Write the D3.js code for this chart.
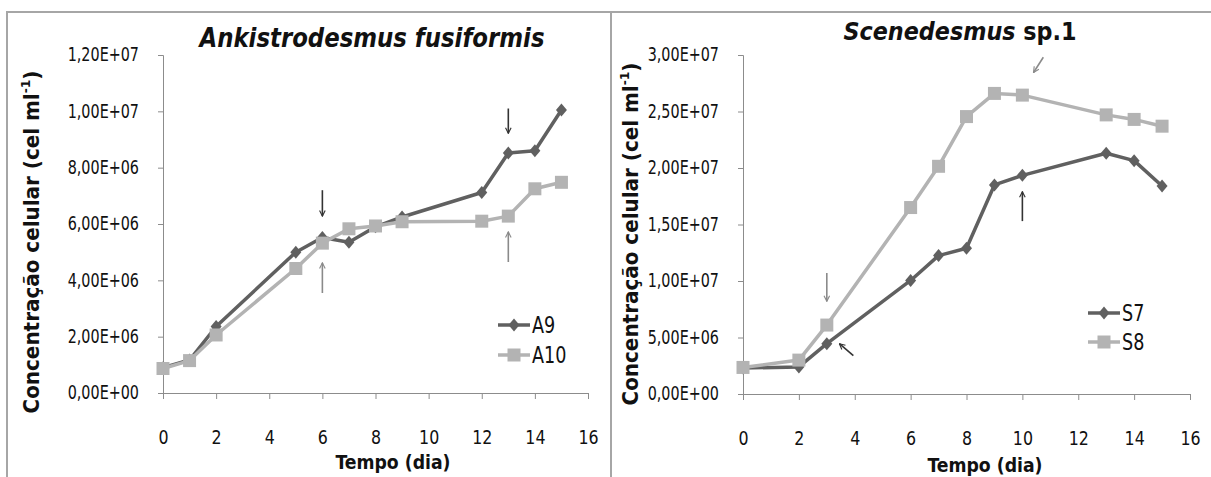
<!DOCTYPE html>
<html><head><meta charset="utf-8">
<script src="https://cdn.jsdelivr.net/npm/d3@7"></script>
<style>
body{margin:0;background:#fff;}
svg{display:block;}
text{font-family:"DejaVu Sans Condensed","Liberation Sans","Open Sans",sans-serif;fill:#111;}
</style></head><body>
<svg id="c" width="1211" height="477"></svg>
<script>
// ---- data ----
const daysA = [0,1,2,5,6,7,8,9,12,13,14,15];
const A9  = [0.90e6,1.17e6,2.36e6,5.0e6,5.52e6,5.35e6,5.9e6,6.25e6,7.12e6,8.52e6,8.6e6,10.05e6];
const A10 = [0.87e6,1.15e6,2.06e6,4.42e6,5.32e6,5.83e6,5.93e6,6.08e6,6.1e6,6.28e6,7.25e6,7.48e6];
const daysS = [0,2,3,6,7,8,9,10,13,14,15];
const S7 = [2.3e6,2.4e6,4.45e6,10.05e6,12.25e6,12.9e6,18.5e6,19.35e6,21.3e6,20.65e6,18.4e6];
const S8 = [2.35e6,3.0e6,6.1e6,16.5e6,20.15e6,24.55e6,26.6e6,26.45e6,24.7e6,24.3e6,23.7e6];
const xTicks = [0,2,4,6,8,10,12,14,16];
const yTicksA = [0,2e6,4e6,6e6,8e6,10e6,12e6];
const yTickLabelsA = ["0,00E+00","2,00E+06","4,00E+06","6,00E+06","8,00E+06","1,00E+07","1,20E+07"];
const yTicksS = [0,5e6,10e6,15e6,20e6,25e6,30e6];
const yTickLabelsS = ["0,00E+00","5,00E+06","1,00E+07","1,50E+07","2,00E+07","2,50E+07","3,00E+07"];
// arrows: [x1,y1,x2,y2] in data units (tail -> head)
const arrowsA = [[6,7.2e6,6,6.28e6,"dark"],[6,3.55e6,6,4.62e6,"light"],[13,10.1e6,13,9.22e6,"dark"],[13,4.65e6,13,5.72e6,"light"]];
const arrowsS = [[3,10.7e6,3,8.2e6,"light"],[3.95,3.4e6,3.45,4.45e6,"dark"],[10,15.3e6,10,17.9e6,"dark"],[10.75,29.8e6,10.4,28.45e6,"light"]];

const DARK="#606060", LIGHT="#b3b3b3";
const svg = d3.select("#c");
const defs = svg.append("defs");
[["dark","#333"],["light","#8a8a8a"]].forEach(([id,c])=>{
  defs.append("marker").attr("id","ah-"+id).attr("viewBox","0 0 10 10").attr("refX",9).attr("refY",5)
    .attr("markerWidth",7).attr("markerHeight",7).attr("markerUnits","userSpaceOnUse").attr("orient","auto")
    .append("path").attr("d","M1,1 L9,5 L1,9").attr("fill","none").attr("stroke",c).attr("stroke-width",1.6);
});
function narrow(sel,f){ sel.each(function(){ const L=this.getComputedTextLength(); d3.select(this).attr("textLength",L*f).attr("lengthAdjust","spacingAndGlyphs"); }); }

// frame
svg.append("path").attr("d","M7,477 V12 H1211 M611,12 V477").attr("fill","none").attr("stroke","#a6a6a6").attr("stroke-width",2);

function panel(cfg){
  const x = d3.scaleLinear().domain([0,16]).range(cfg.xr);
  const y = d3.scaleLinear().domain(cfg.yd).range(cfg.yr);
  const g = svg.append("g");
  // y axis
  const ya = g.append("g").attr("transform",`translate(${cfg.xr[0]},0)`)
    .call(d3.axisLeft(y).tickValues(cfg.yTicks).tickFormat((d,i)=>cfg.yLabels[i]).tickSize(5).tickPadding(19));
  ya.selectAll("text").attr("font-size",19).attr("font-family",null).attr("fill","#111").attr("dy","0.3em");
  narrow(ya.selectAll("text"),0.84);
  // x axis
  const xa = g.append("g").attr("transform",`translate(0,${cfg.yr[0]})`)
    .call(d3.axisBottom(x).tickValues(xTicks).tickSize(6).tickPadding(31));
  xa.selectAll("text").attr("font-size",20).attr("font-family",null).attr("fill","#111");
  narrow(xa.selectAll("text"),0.88);
  [ya,xa].forEach(a=>{a.select(".domain").attr("stroke","#8c8c8c");a.selectAll(".tick line").attr("stroke","#8c8c8c");});
  // series
  const line = d3.line().x(d=>x(d[0])).y(d=>y(d[1]));
  cfg.series.forEach(s=>{
    const pts = cfg.days.map((d,i)=>[d,s.vals[i]]);
    g.append("path").attr("d",line(pts)).attr("fill","none").attr("stroke",s.color).attr("stroke-width",3.5).attr("stroke-linejoin","round");
    g.selectAll(null).data(pts).enter().append("path")
      .attr("transform",d=>`translate(${x(d[0])},${y(d[1])})`)
      .attr("d",s.shape==="d"?"M0,-6.5 L5.5,0 L0,6.5 L-5.5,0Z":"M-6.5,-6.5 H6.5 V6.5 H-6.5Z")
      .attr("fill",s.color);
  });
  // arrows
  cfg.arrows.forEach(a=>{
    g.append("line").attr("x1",x(a[0])).attr("y1",y(a[1])).attr("x2",x(a[2])).attr("y2",y(a[3]))
      .attr("stroke",a[4]==="dark"?"#333":"#8a8a8a").attr("stroke-width",1.6)
      .attr("marker-end",`url(#ah-${a[4]})`);
  });
  // legend
  cfg.series.forEach((s,i)=>{
    const ly = cfg.leg[1]+i*cfg.legGap, lx = cfg.leg[0];
    g.append("line").attr("x1",lx).attr("x2",lx+32).attr("y1",ly).attr("y2",ly).attr("stroke",s.color).attr("stroke-width",3.5);
    g.append("path").attr("transform",`translate(${lx+16},${ly})`)
      .attr("d",s.shape==="d"?"M0,-6.5 L5.5,0 L0,6.5 L-5.5,0Z":"M-6.5,-6.5 H6.5 V6.5 H-6.5Z").attr("fill",s.color);
    const lt = g.append("text").attr("x",lx+34).attr("y",ly).attr("dy","0.36em").attr("font-size",23).text(s.name);
    narrow(lt,0.85);
  });
  // titles
  const t = g.append("text").attr("x",cfg.title.x).attr("y",cfg.title.y).attr("text-anchor","middle")
    .attr("font-size",cfg.title.size).attr("font-weight","bold").attr("textLength",cfg.title.w).attr("lengthAdjust","spacingAndGlyphs");
  t.append("tspan").attr("font-style","italic").text(cfg.title.it);
  if(cfg.title.rest) t.append("tspan").text(cfg.title.rest);
  g.append("text").attr("x",cfg.xlab[0]).attr("y",cfg.xlab[1]).attr("text-anchor","middle").attr("font-size",20).attr("font-weight","bold")
    .attr("textLength",115).attr("lengthAdjust","spacingAndGlyphs").text("Tempo (dia)");
  const yl = g.append("text").attr("transform",`translate(${cfg.ylab[0]},${cfg.ylab[1]}) rotate(-90)`)
    .attr("text-anchor","middle").attr("font-size",21).attr("font-weight","bold")
    .attr("textLength",cfg.ylab[2]).attr("lengthAdjust","spacingAndGlyphs")
    .attr("font-family","'Open Sans','DejaVu Sans',sans-serif");
  yl.append("tspan").text("Concentração celular (cel ml");
  yl.append("tspan").attr("font-size",13).attr("dy","-0.7em").text("-1");
  yl.append("tspan").attr("dy","0.45em").text(")");
}

panel({xr:[163,588], yr:[393,55], yd:[0,1.2e7], yTicks:yTicksA, yLabels:yTickLabelsA, days:daysA,
  series:[{name:"A9",vals:A9,color:DARK,shape:"d"},{name:"A10",vals:A10,color:LIGHT,shape:"s"}],
  arrows:arrowsA, leg:[498,325], legGap:30,
  title:{x:372,y:47,size:27,w:345,it:"Ankistrodesmus fusiformis"},
  xlab:[393,469], ylab:[39,242,343]});
panel({xr:[743,1190], yr:[394,55], yd:[0,3e7], yTicks:yTicksS, yLabels:yTickLabelsS, days:daysS,
  series:[{name:"S7",vals:S7,color:DARK,shape:"d"},{name:"S8",vals:S8,color:LIGHT,shape:"s"}],
  arrows:arrowsS, leg:[1088,313], legGap:29,
  title:{x:960,y:40,size:25,w:233,it:"Scenedesmus",rest:" sp.1"},
  xlab:[985,472], ylab:[638,234,343]});
</script></body></html>
